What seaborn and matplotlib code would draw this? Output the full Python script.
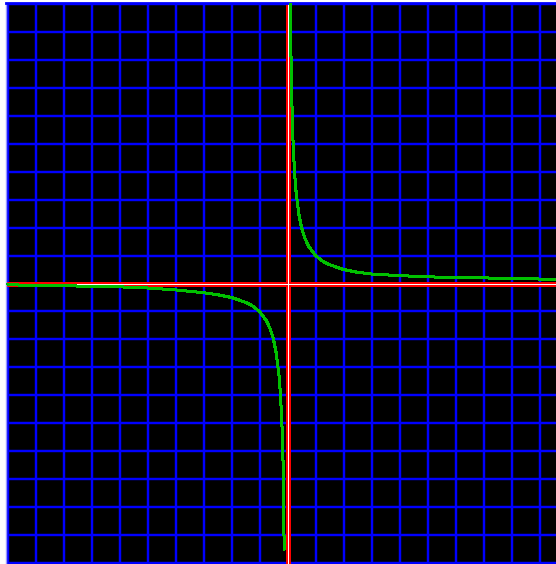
import numpy as np
import pandas as pd
import matplotlib
matplotlib.use("Agg")
import matplotlib.pyplot as plt
import seaborn as sns

# values (y = 1/x style curve)
right_x = [0.1, 0.13, 0.17, 0.2, 0.25, 0.3, 0.4, 0.5, 0.6, 0.75, 1.0, 1.25, 1.5,
           2.0, 2.5, 3.0, 4.0, 5.0, 6.0, 7.0, 8.0, 9.0, 9.6]
right_y = [10.0, 7.7, 5.9, 5.0, 4.0, 3.33, 2.5, 2.0, 1.67, 1.33, 1.0, 0.8, 0.67,
           0.5, 0.4, 0.34, 0.28, 0.24, 0.21, 0.2, 0.18, 0.16, 0.13]
left_x = [-10.0, -9.4, -8.0, -7.0, -6.0, -5.0, -4.0, -3.0, -2.5, -2.0, -1.5, -1.25,
          -1.0, -0.75, -0.6, -0.5, -0.4, -0.3, -0.25, -0.2, -0.15, -0.12]
left_y = [-0.02, -0.07, -0.08, -0.1, -0.12, -0.16, -0.23, -0.33, -0.4, -0.5, -0.67,
          -0.8, -1.0, -1.33, -1.67, -2.0, -2.5, -3.33, -4.0, -5.0, -6.7, -9.5]
grid_x = list(range(-10, 10))
grid_y = list(range(-10, 11))

sns.set_style("white")

fig = plt.figure(figsize=(5.56, 5.64), dpi=100)
fig.patch.set_facecolor("white")
ax = fig.add_axes([6 / 556, 0, 550 / 556, 561 / 564])
ax.set_facecolor("black")

# grid
ax.set_xticks(grid_x)
ax.set_yticks(grid_y)
ax.grid(True, color="#0000ff", linewidth=1.75, antialiased=True)
ax.set_axisbelow(True)
ax.tick_params(length=0, labelbottom=False, labelleft=False)

# axes lines (red with white core)
ax.axhline(0, color="#ff0000", linewidth=2.35, antialiased=False, zorder=2)
ax.axhline(0, color="white", linewidth=0.72, antialiased=False, zorder=2.1)
ax.axvline(0, color="#ff0000", linewidth=2.35, antialiased=False, zorder=2)
ax.axvline(0, color="white", linewidth=0.72, antialiased=False, zorder=2.1)

# curve branches
df_right = pd.DataFrame({"x": right_x, "y": right_y})
df_left = pd.DataFrame({"x": left_x, "y": left_y})
sns.lineplot(data=df_right, x="x", y="y", sort=False, estimator=None, ax=ax,
             color="#00c000", linewidth=1.44, antialiased=False, zorder=3)
sns.lineplot(data=df_left, x="x", y="y", sort=False, estimator=None, ax=ax,
             color="#00c000", linewidth=1.44, antialiased=False, zorder=3)

ax.set_xlim(-10.054, 9.589)
ax.set_ylim(-10.018, 10.018)
ax.set_xlabel("")
ax.set_ylabel("")

for side in ["right", "bottom"]:
    ax.spines[side].set_visible(False)
ax.spines["top"].set_color("#0000ff")
ax.spines["top"].set_linewidth(2.0)
ax.spines["left"].set_color("#9999ff")
ax.spines["left"].set_linewidth(1.0)

fig.savefig("out.png", dpi=100, facecolor="white")
